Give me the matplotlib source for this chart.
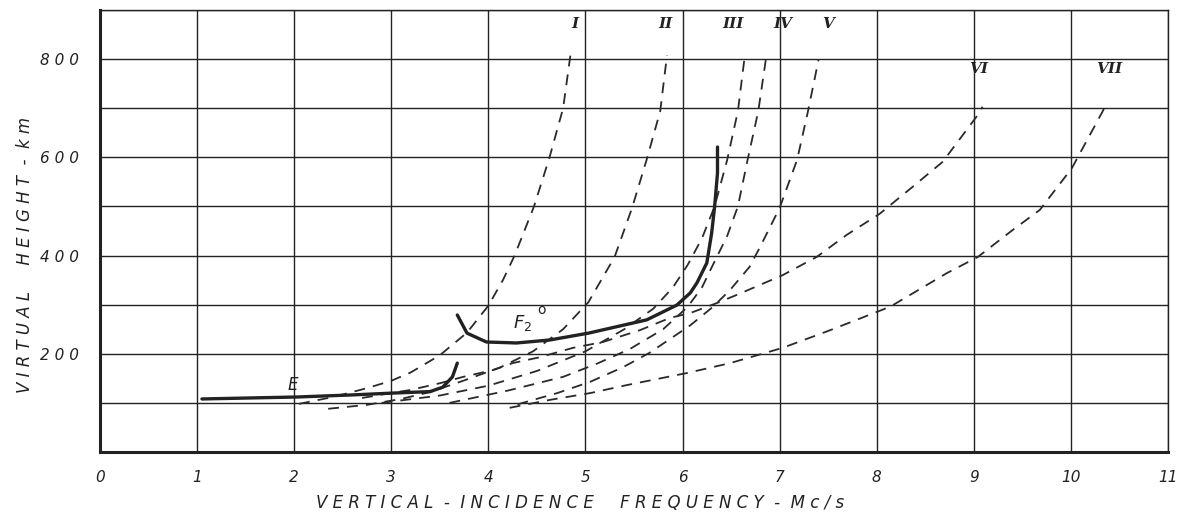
import numpy as np
import matplotlib.pyplot as plt

# Ionogram traces (frequency Mc/s, virtual height km)
e_freq = [1.05, 1.54, 2.03, 2.57, 3.02, 3.40, 3.53, 3.63, 3.68]
e_height = [108, 110, 112, 116, 120, 123, 132, 153, 181]

f2_freq = [3.68, 3.78, 3.98, 4.29, 4.63, 5.03, 5.63, 5.94, 6.08, 6.15, 6.25, 6.30, 6.33, 6.36, 6.36]
f2_height = [279, 242, 224, 222, 228, 242, 269, 299, 324, 345, 385, 446, 499, 568, 621]

# Transmission curves I..VII
t1_freq = [2.05, 2.4, 2.75, 3.0, 3.2, 3.5, 3.78, 4.0, 4.15, 4.27, 4.47, 4.63, 4.77, 4.85]
t1_height = [98, 112, 130, 145, 162, 197, 243, 298, 350, 400, 500, 600, 700, 815]

t2_freq = [2.35, 2.75, 3.1, 3.4, 3.74, 4.12, 4.46, 4.77, 5.03, 5.30, 5.48, 5.63, 5.77, 5.84]
t2_height = [88, 96, 108, 122, 145, 172, 205, 250, 305, 397, 497, 595, 694, 808]

t3_freq = [2.9, 3.5, 4.0, 4.5, 5.0, 5.4, 5.7, 5.9, 6.05, 6.2, 6.33, 6.46, 6.57, 6.64]
t3_height = [100, 115, 135, 165, 205, 250, 292, 335, 380, 435, 500, 595, 694, 805]

t4_freq = [3.6, 4.2, 4.77, 5.12, 5.46, 5.80, 6.05, 6.2, 6.31, 6.46, 6.57, 6.67, 6.78, 6.86]
t4_height = [100, 125, 153, 180, 210, 250, 295, 335, 380, 440, 500, 595, 694, 802]

t5_freq = [4.3, 4.71, 5.05, 5.39, 5.66, 5.90, 6.08, 6.31, 6.49, 6.69, 6.80, 7.0, 7.18, 7.29, 7.40]
t5_height = [97, 120, 143, 173, 202, 234, 258, 295, 330, 377, 418, 497, 595, 692, 798]

t6_freq = [2.7, 2.99, 3.19, 3.50, 3.74, 4.05, 4.25, 4.53, 4.87, 5.18, 5.56, 5.87, 6.08, 6.35,
           6.56, 7.03, 7.38, 7.69, 8.03, 8.37, 8.68, 9.04, 9.09]
t6_height = [110, 120, 126, 140, 153, 167, 181, 193, 212, 224, 248, 273, 283, 303,
             320, 360, 397, 442, 485, 540, 591, 686, 703]

t7_freq = [4.22, 4.63, 5.05, 5.42, 6.05, 6.49, 7.03, 7.52, 8.14, 8.72, 9.04, 9.40, 9.68, 10.01, 10.38]
t7_height = [90, 106, 120, 136, 161, 181, 212, 248, 296, 364, 397, 452, 493, 578, 713]

curve_labels = ["I", "II", "III", "IV", "V", "VI", "VII"]
label_pos = [(4.89, 872), (5.82, 872), (6.52, 872), (7.03, 872), (7.50, 872), (9.05, 780), (10.40, 780)]

x_ticks = list(range(0, 12))
x_ticklabels = [str(v) for v in x_ticks]
y_ticks = [200, 400, 600, 800]
y_ticklabels = ["2 0 0", "4 0 0", "6 0 0", "8 0 0"]

fig = plt.figure(figsize=(11.81, 5.17), dpi=100)
ax = fig.add_axes([100 / 1181, 65 / 517, 1068 / 1181, 442 / 517])

# grid every 1 Mc/s and 100 km
for xv in range(0, 12):
    ax.axvline(xv, color="#222222", lw=1.0, zorder=1)
for yv in range(100, 901, 100):
    ax.axhline(yv, color="#222222", lw=1.0, zorder=1)

transmission = [(t1_freq, t1_height), (t2_freq, t2_height), (t3_freq, t3_height),
                (t4_freq, t4_height), (t5_freq, t5_height), (t6_freq, t6_height),
                (t7_freq, t7_height)]
for fx, hy in transmission:
    ax.plot(fx, hy, color="#2a2a2a", lw=1.3, linestyle=(0, (6, 4.5)), zorder=2)

ax.plot(e_freq, e_height, color="#222222", lw=2.4, solid_capstyle="round", zorder=3)
ax.plot(f2_freq, f2_height, color="#222222", lw=2.4, solid_capstyle="round", zorder=3)

for lab, (lx, ly) in zip(curve_labels, label_pos):
    ax.text(lx, ly, lab, ha="center", va="center", fontsize=11, family="DejaVu Serif",
            style="italic", fontweight="bold", color="#222222")

ax.text(1.99, 136, "E", ha="center", va="center", fontsize=12, style="italic", color="#222222")
ax.text(4.35, 262, r"$F_2$", ha="center", va="center", fontsize=13, color="#222222",
        math_fontfamily="dejavusans")
ax.text(4.55, 290, "o", ha="center", va="center", fontsize=10, color="#222222")

ax.set_xlim(0, 11)
ax.set_ylim(0, 900)
ax.set_xticks(x_ticks)
ax.set_xticklabels(x_ticklabels, style="italic", fontsize=11)
ax.set_yticks(y_ticks)
ax.set_yticklabels(y_ticklabels, style="italic", fontsize=11)
ax.tick_params(axis="x", length=0, pad=13, colors="#222222")
ax.tick_params(axis="y", length=0, pad=15, colors="#222222")

for side in ["top", "right"]:
    ax.spines[side].set_linewidth(1.0)
for side in ["left", "bottom"]:
    ax.spines[side].set_linewidth(2.2)
for sp in ax.spines.values():
    sp.set_color("#222222")

fig.text(25 / 1181, 1 - 255 / 517, "V I R T U A L     H E I G H T  -  k m", rotation=90,
         ha="center", va="center", fontsize=12, style="italic", color="#222222")
fig.text(580 / 1181, 1 - 503 / 517, "V E R T I C A L  -  I N C I D E N C E     F R E Q U E N C Y  -  M c / s",
         ha="center", va="center", fontsize=12, style="italic", color="#222222")

fig.savefig("out.png", dpi=100)
